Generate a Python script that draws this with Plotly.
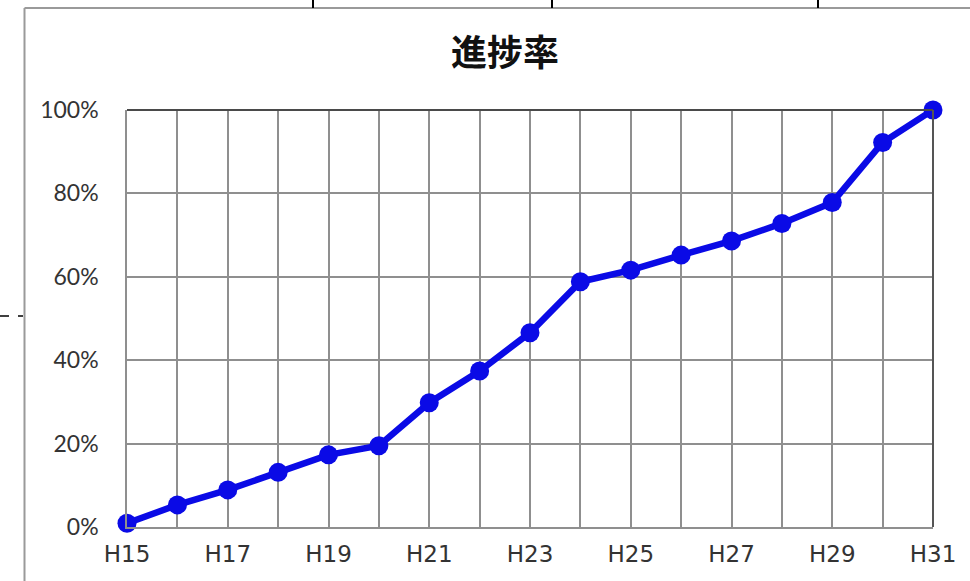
import plotly.graph_objects as go

# Fiscal years (Heisei era) and cumulative progress rate in percent
years = ["H15", "H16", "H17", "H18", "H19", "H20", "H21", "H22", "H23",
         "H24", "H25", "H26", "H27", "H28", "H29", "H30", "H31"]
progress = [0.9, 5.3, 8.9, 13.1, 17.3, 19.5, 29.8, 37.4, 46.6,
            58.8, 61.6, 65.2, 68.6, 72.8, 77.8, 92.2, 100.0]
y_ticks = [0, 20, 40, 60, 80, 100]

W, H = 970, 581
L, R, T, B = 127, 37, 110, 54
pw, ph = W - L - R, H - T - B


def px(x):
    return (x - L) / pw


def py(y):
    return (H - B - y) / ph


blue = "#0a0ae6"
grid = "#8f8f8f"

fig = go.Figure()
fig.add_trace(go.Scatter(
    x=years, y=progress, mode="lines+markers",
    line=dict(color=blue, width=6.5),
    marker=dict(color=blue, size=19),
    cliponaxis=False, showlegend=False,
))

shapes = [
    # outer frame of the chart object
    dict(type="line", xref="paper", yref="paper", x0=px(24.5), x1=px(975),
         y0=py(8), y1=py(8), line=dict(color="#9a9a9a", width=2)),
    dict(type="line", xref="paper", yref="paper", x0=px(24.5), x1=px(24.5),
         y0=py(8), y1=py(590), line=dict(color="#9a9a9a", width=2)),
    # dashed guide on the left edge
    dict(type="line", xref="paper", yref="paper", x0=px(0), x1=px(23),
         y0=py(316), y1=py(316), line=dict(color="black", width=1.5, dash="dash")),
    # darker top and right edges of the plot area
    dict(type="line", xref="paper", yref="paper", x0=0, x1=1, y0=1, y1=1,
         line=dict(color="#4a4a4a", width=2)),
    dict(type="line", xref="paper", yref="paper", x0=1, x1=1, y0=0, y1=1,
         line=dict(color="#555555", width=2)),
]
# small markers above the frame
for xm in (313, 552, 818):
    shapes.append(dict(type="line", xref="paper", yref="paper", x0=px(xm), x1=px(xm),
                       y0=py(-2), y1=py(8), line=dict(color="black", width=2)))

fig.update_layout(
    width=W, height=H,
    margin=dict(l=L, r=R, t=T, b=B, autoexpand=False),
    paper_bgcolor="white", plot_bgcolor="white",
    title=dict(text="<b>進捗率</b>", x=505 / W, xref="container", xanchor="center",
               y=1 - 53 / H, yref="container", yanchor="middle",
               font=dict(family="Noto Sans CJK JP", size=36, color="#111111")),
    shapes=shapes,
    xaxis=dict(
        type="category", range=[0, len(years) - 1],
        tickmode="array", tickvals=years,
        ticktext=[y if i % 2 == 0 else "" for i, y in enumerate(years)],
        showgrid=True, gridcolor=grid, gridwidth=1.5,
        showline=True, linecolor=grid, linewidth=1.5,
        ticks="", ticklabelstandoff=6,
        tickfont=dict(family="DejaVu Sans", size=23, color="#333333"),
        zeroline=False,
    ),
    yaxis=dict(
        range=[0, 100], tickmode="array", tickvals=y_ticks,
        ticktext=[f"{v}%" for v in y_ticks],
        showgrid=True, gridcolor=grid, gridwidth=1.5,
        showline=True, linecolor=grid, linewidth=1.5,
        ticks="", ticklabelstandoff=22,
        tickfont=dict(family="Lato", size=23, color="#333333"),
        zeroline=False,
    ),
)

fig.write_html("out.html")
